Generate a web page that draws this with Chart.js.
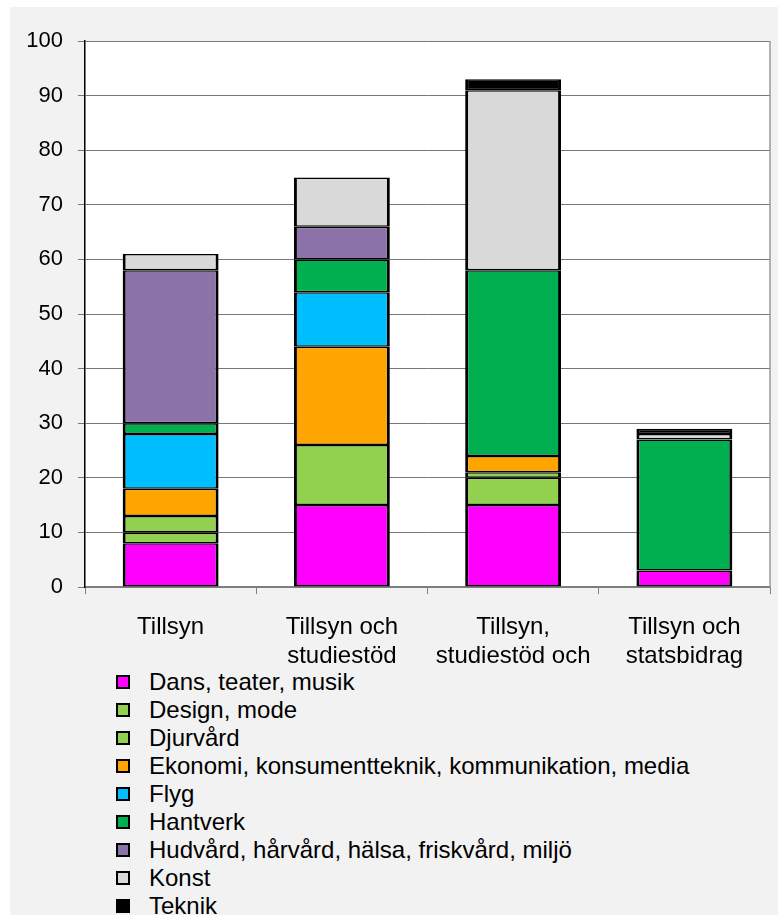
<!DOCTYPE html>
<html>
<head>
<meta charset="utf-8">
<script src="https://cdn.jsdelivr.net/npm/chart.js@4"></script>
<style>
  body { margin: 0; background: #fff; font-family: "Liberation Sans", Arial, sans-serif; }
  #panel { position: absolute; left: 10px; top: 7px; width: 768px; height: 908px; background: #f2f2f2; }
  #wrap { position: absolute; left: 0; top: 0; width: 778px; height: 668px; }
  #legend { position: absolute; left: 116px; top: 668px; font-size: 24px; color: #000; }
  .item { height: 28px; line-height: 28px; white-space: nowrap; }
  .box { display: inline-block; width: 10px; height: 10px; border: 2px solid #000; vertical-align: middle; margin-right: 19px; position: relative; top: -2px; }
</style>
</head>
<body>
<div id="panel"></div>
<div id="wrap"><canvas id="chart" width="778" height="668"></canvas></div>
<div id="legend"></div>
<script>
// categories (third label is cut off in the original)
var categories = [["Tillsyn"], ["Tillsyn och", "studiestöd"], ["Tillsyn,", "studiestöd och"], ["Tillsyn och", "statsbidrag"]];

var seriesNames = ["Dans, teater, musik", "Design, mode", "Djurvård",
  "Ekonomi, konsumentteknik, kommunikation, media", "Flyg", "Hantverk",
  "Hudvård, hårvård, hälsa, friskvård, miljö", "Konst", "Teknik"];
var seriesColors = ["#ff00ff", "#92d050", "#92d050", "#ffa500", "#00bfff",
  "#00b050", "#8b73a9", "#d9d9d9", "#000000"];

// values per series, one per category
var dans     = [8, 15, 15, 3];
var design   = [2, 11, 5, 0];
var djurvard = [3, 0, 1, 0];
var ekonomi  = [5, 18, 3, 0];
var flyg     = [10, 10, 0, 0];
var hantverk = [2, 6, 34, 24];
var hudvard  = [28, 6, 0, 0];
var konst    = [3, 9, 33, 1];
var teknik   = [0, 0, 2, 1];

var seriesValues = [dans, design, djurvard, ekonomi, flyg, hantverk, hudvard, konst, teknik];

var yTicks = [0, 10, 20, 30, 40, 50, 60, 70, 80, 90, 100];

var datasets = [];
for (var i = 0; i < seriesNames.length; i++) {
  datasets.push({
    label: seriesNames[i],
    data: seriesValues[i],
    backgroundColor: seriesColors[i],
    borderColor: "#000",
    borderWidth: { left: 3, right: 3, top: 1.5, bottom: 1.5 },
    borderSkipped: false,
    inflateAmount: 0
  });
}

// white plot area plus a thin right border, like the original
var plotBg = {
  id: "plotBg",
  beforeDraw: function (chart) {
    var a = chart.chartArea, ctx = chart.ctx;
    ctx.save();
    ctx.fillStyle = "#fff";
    ctx.fillRect(a.left, a.top, a.right - a.left, a.bottom - a.top);
    ctx.restore();
  },
  afterDraw: function (chart) {
    var a = chart.chartArea, ctx = chart.ctx;
    ctx.save();
    ctx.strokeStyle = "#9a9a9a";
    ctx.lineWidth = 1.5;
    ctx.beginPath();
    ctx.moveTo(a.right, a.top);
    ctx.lineTo(a.right, a.bottom);
    ctx.stroke();
    ctx.restore();
  }
};

var family = "'Liberation Sans', Arial, sans-serif";

var chart = new Chart(document.getElementById("chart"), {
  type: "bar",
  data: { labels: categories, datasets: datasets },
  plugins: [plotBg],
  options: {
    responsive: false,
    animation: false,
    layout: { padding: { top: 41, right: 8, left: 0, bottom: 0 } },
    plugins: { legend: { display: false }, tooltip: { enabled: false } },
    datasets: { bar: { categoryPercentage: 1, barPercentage: 0.56 } },
    scales: {
      x: {
        stacked: true,
        grid: { offset: true, drawOnChartArea: false, tickLength: 7, color: "#808080" },
        border: { color: "#808080", width: 1.5 },
        ticks: { color: "#000", font: { family: family, size: 24 }, padding: 19, maxRotation: 0 },
        afterFit: function (s) { s.height = 81; }
      },
      y: {
        stacked: true,
        min: 0, max: 100,
        afterBuildTicks: function (s) { s.ticks = yTicks.map(function (v) { return { value: v }; }); },
        grid: { color: "#777", tickLength: 7 },
        border: { color: "#000", width: 1.5 },
        ticks: { color: "#000", font: { family: family, size: 22 }, padding: 15 },
        afterFit: function (s) { s.width = 85; }
      }
    }
  }
});

// legend as a single column below the chart
var legend = document.getElementById("legend");
chart.data.datasets.forEach(function (ds) {
  var row = document.createElement("div");
  row.className = "item";
  var box = document.createElement("span");
  box.className = "box";
  box.style.background = ds.backgroundColor;
  row.appendChild(box);
  row.appendChild(document.createTextNode(ds.label));
  legend.appendChild(row);
});
</script>
</body>
</html>
